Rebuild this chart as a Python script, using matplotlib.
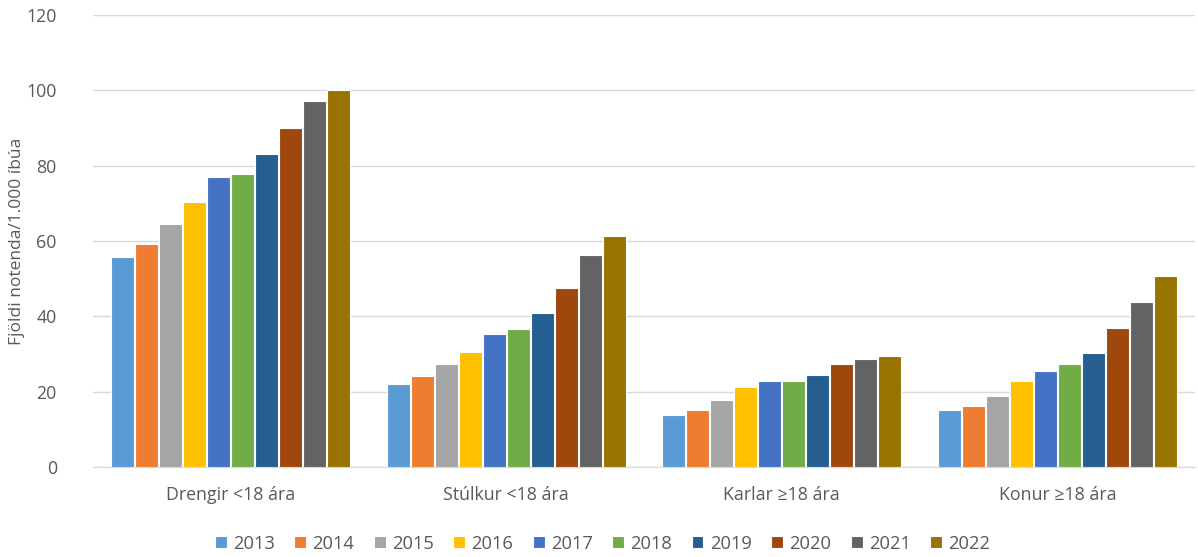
import matplotlib
matplotlib.use("Agg")
import matplotlib.pyplot as plt
import numpy as np

categories = ["Drengir <18 ára", "Stúlkur <18 ára", "Karlar ≥18 ára", "Konur ≥18 ára"]
years = ["2013", "2014", "2015", "2016", "2017", "2018", "2019", "2020", "2021", "2022"]
v2013 = [55.8, 22.0, 13.7, 15.0]
v2014 = [59.3, 24.2, 15.0, 16.2]
v2015 = [64.4, 27.3, 17.7, 18.9]
v2016 = [70.3, 30.6, 21.3, 22.9]
v2017 = [77.0, 35.2, 22.8, 25.6]
v2018 = [77.9, 36.6, 22.9, 27.3]
v2019 = [83.1, 40.9, 24.3, 30.3]
v2020 = [90.1, 47.5, 27.4, 37.0]
v2021 = [97.2, 56.3, 28.8, 43.9]
v2022 = [100.0, 61.3, 29.5, 50.8]
series = [v2013, v2014, v2015, v2016, v2017, v2018, v2019, v2020, v2021, v2022]
colors = ["#5B9BD5", "#ED7D31", "#A5A5A5", "#FFC000", "#4472C4",
          "#70AD47", "#255E91", "#9E480E", "#636363", "#997300"]

plt.rcParams['font.family'] = ['Open Sans', 'DejaVu Sans']
txt = "#595959"
fs = 12.8

fig = plt.figure(figsize=(11.98, 5.57), dpi=100)
ax = fig.add_axes([0.0776, 0.1616, 0.92, 0.8114])

x = np.arange(len(categories))
w = 0.0871
n = len(series)
for i, (vals, c, yr) in enumerate(zip(series, colors, years)):
    ax.bar(x + (i - (n - 1) / 2) * w, vals, width=w * 0.96, color=c, edgecolor="white",
           linewidth=0.8, label=yr, zorder=3)

ax.set_xlim(-0.5, len(categories) - 0.5)
ax.set_ylim(0, 120)
ax.set_yticks(np.arange(0, 121, 20))
ax.yaxis.grid(True, color="#D9D9D9", linewidth=1, zorder=0)
ax.set_axisbelow(True)
for s in ["top", "right", "left"]:
    ax.spines[s].set_visible(False)
ax.spines["bottom"].set_color("#D9D9D9")
ax.tick_params(axis="both", length=0, colors=txt, labelsize=fs)
ax.tick_params(axis="y", pad=26)
ax.tick_params(axis="x", pad=14)
ax.set_xticks(x)
ax.set_xticklabels(categories)
ax.set_ylabel("Fjöldi notenda/1.000 íbúa", color=txt, fontsize=12.5)
ax.yaxis.set_label_coords(-0.062, 0.5)

fig.legend(loc="lower center", ncol=10, bbox_to_anchor=(0.503, -0.022), frameon=False,
           fontsize=13.2, handlelength=0.65, handleheight=0.65, handletextpad=0.35,
           columnspacing=1.05, labelcolor=txt)

fig.savefig("out.png", dpi=100)
